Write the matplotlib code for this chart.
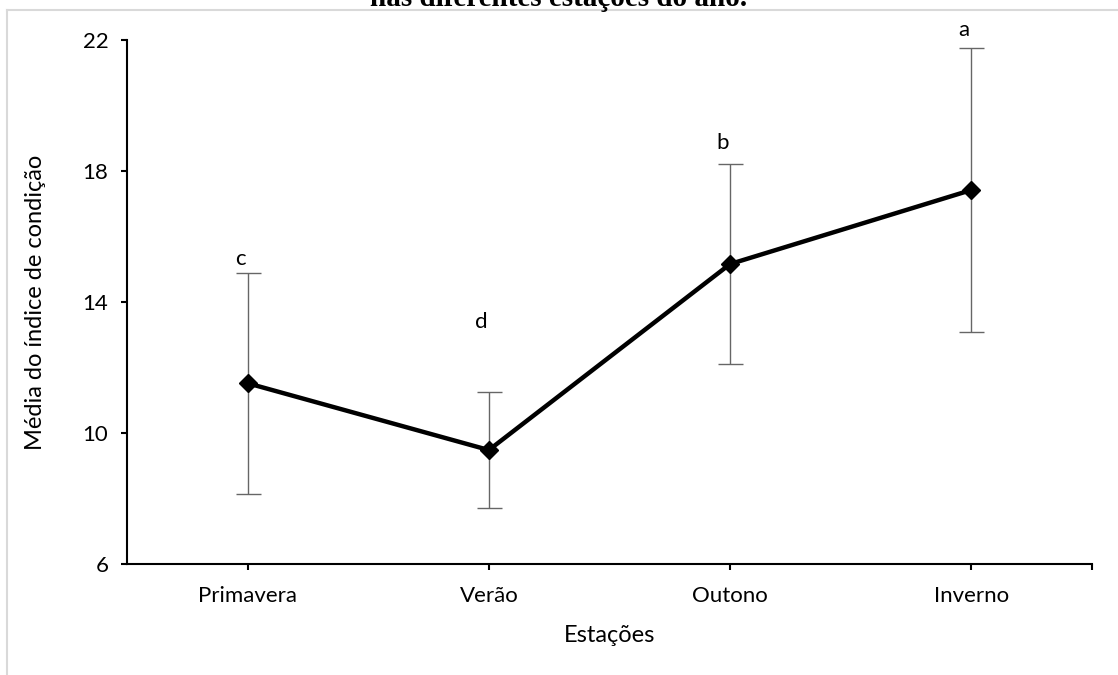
import numpy as np
import matplotlib
matplotlib.use("Agg")
import matplotlib.pyplot as plt
from matplotlib.lines import Line2D

# mean condition index per season, with the error bar size
seasons = ["Primavera", "Verão", "Outono", "Inverno"]
means = [11.52, 9.48, 15.16, 17.42]
errors = [3.38, 1.77, 3.06, 4.35]
letters = ["c", "d", "b", "a"]
letter_y = [15.3, 13.4, 18.85, 22.3]

plt.rcParams["font.family"] = ["Lato", "DejaVu Sans"]

fig = plt.figure(figsize=(11.18, 6.75), dpi=100)
ax = fig.add_axes([0.1136, 0.1644, 0.8631, 0.7763])

x = np.arange(len(seasons))
ax.errorbar(x, means, yerr=errors, fmt="none", ecolor="#666666",
            elinewidth=1, capsize=9, capthick=1, zorder=2)
ax.plot(x, means, color="black", lw=3.2, marker="D", markersize=9, zorder=3)

# significance letters above each bar
for xi, txt, ty in zip(x, letters, letter_y):
    ax.text(xi - 0.03, ty, txt, ha="center", va="center", fontsize=16,
            clip_on=False)

ax.set_xlim(-0.5, 3.5)
ax.set_ylim(6, 22)
ax.set_yticks([6, 10, 14, 18, 22])
ax.set_xticks(list(x) + [3.5])
ax.set_xticklabels(seasons + [""])
ax.tick_params(axis="both", direction="out", length=4.5, width=1.5,
               labelsize=16)
ax.tick_params(axis="y", pad=9)
ax.tick_params(axis="x", pad=11)

for s in ["top", "right"]:
    ax.spines[s].set_visible(False)
for s in ["left", "bottom"]:
    ax.spines[s].set_linewidth(1.5)

ax.set_xlabel("Estações", fontsize=17, labelpad=14)
ax.set_ylabel("Média do índice de condição", fontsize=17, labelpad=26)

# light frame around the chart area
fig.add_artist(Line2D([7 / 1118, 1], [1 - 10 / 675, 1 - 10 / 675],
                      color="#d9d9d9", lw=1.5))
fig.add_artist(Line2D([7 / 1118, 7 / 1118], [0, 1 - 10 / 675],
                      color="#d9d9d9", lw=1.5))

# caption line above the chart, partly outside the top edge
fig.text(0.5, 1 - 6 / 675, "nas diferentes estações do ano.",
         ha="center", va="baseline", fontsize=21, fontweight="bold",
         family="Liberation Serif")

fig.savefig("out.png", dpi=100, facecolor="white")
